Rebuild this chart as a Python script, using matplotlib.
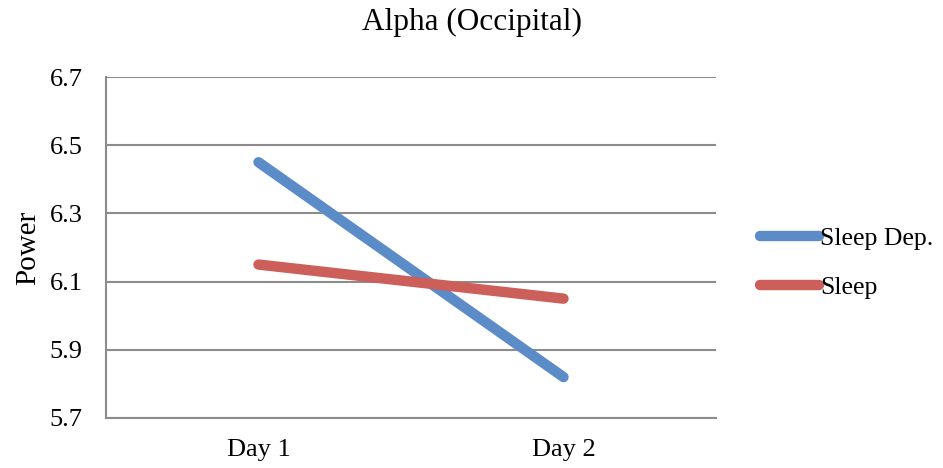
import matplotlib.pyplot as plt

# values
days = ['Day 1', 'Day 2']
sleep_dep = [6.45, 5.82]
sleep = [6.15, 6.05]
yticks = [5.7, 5.9, 6.1, 6.3, 6.5, 6.7]

plt.rcParams['font.family'] = ['Liberation Serif', 'DejaVu Serif']

fig = plt.figure(figsize=(9.43, 4.68), dpi=100)
ax = fig.add_axes([106/943, 1 - 418/468, (716 - 106)/943, (418 - 77)/468])

x = range(len(days))
ax.plot(x, sleep_dep, color='#5B8CC8', lw=7.5, solid_capstyle='round', label='Sleep Dep.')
ax.plot(x, sleep, color='#CC5F5A', lw=7.5, solid_capstyle='round', label='Sleep')

ax.set_xlim(-0.5, 1.5)
ax.set_ylim(5.7, 6.7)
ax.set_xticks(list(x))
ax.set_xticklabels(days)
ax.set_yticks(yticks)
ax.set_yticklabels(['%.1f' % v for v in yticks])
ax.tick_params(length=0, labelsize=19)
ax.tick_params(axis='y', pad=17)
ax.tick_params(axis='x', pad=15)

ax.grid(axis='y', color='#8C8C8C', lw=1.5)
ax.set_axisbelow(True)
for s in ['top', 'right']:
    ax.spines[s].set_visible(False)
for s in ['left', 'bottom']:
    ax.spines[s].set_color('#8C8C8C')
    ax.spines[s].set_linewidth(1.5)

ax.set_ylabel('Power', fontsize=21, labelpad=6)
fig.suptitle('Alpha (Occipital)', x=0.5, y=1 - 8/468, va='top', fontsize=22.5)

fig.legend(loc='center left', bbox_to_anchor=(760/943, 1 - 263/468), frameon=False,
           fontsize=18.5, handlelength=2.3, handletextpad=0.05, labelspacing=1.05,
           borderpad=0, borderaxespad=0)

fig.savefig('out.png', dpi=100)
